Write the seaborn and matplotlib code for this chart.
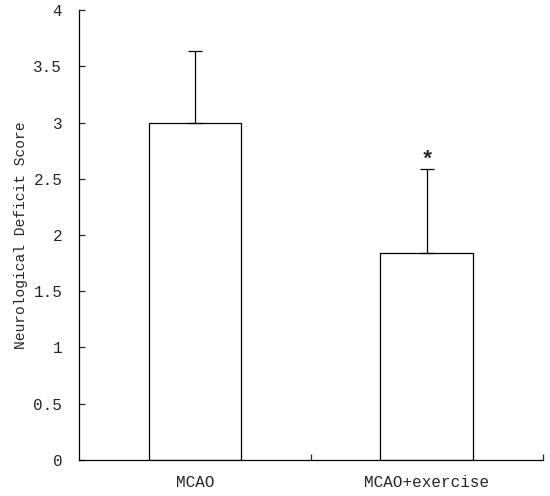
import matplotlib
matplotlib.use("Agg")
import matplotlib.pyplot as plt
import seaborn as sns
import pandas as pd

groups = ["MCAO", "MCAO+exercise"]
means = [3.0, 1.84]
sds = [0.64, 0.75]
marks = ["", "*"]

sns.set_style("white")
plt.rcParams["font.family"] = ["Liberation Mono", "DejaVu Sans Mono"]

df = pd.DataFrame({"group": groups, "score": means})

fig = plt.figure(figsize=(5.5, 4.96), dpi=100)
ax = fig.add_axes([0.1436, 0.0726, 0.8434, 0.9072])

sns.barplot(data=df, x="group", y="score", color="white", edgecolor="black",
            linewidth=0.9, width=0.4, errorbar=None, ax=ax)

# one-sided (upper) error bars
ax.errorbar(x=range(len(groups)), y=means, yerr=[[0] * len(sds), sds],
            fmt="none", ecolor="black", elinewidth=0.9, capsize=5, capthick=0.9)

for i, m in enumerate(marks):
    if m:
        ax.text(i, means[i] + sds[i] - 0.02, m, ha="center", va="bottom",
                fontsize=16, fontweight="bold")

ax.set_ylim(0, 4)
ax.set_xlim(-0.5, 1.5)
ax.set_yticks([0, 0.5, 1, 1.5, 2, 2.5, 3, 3.5, 4])
ax.set_yticklabels(["0", "0.5", "1", "1.5", "2", "2.5", "3", "3.5", "4"])
ax.set_xticks([0, 1])
ax.set_xticklabels(groups)
ax.set_xticks([0.5, 1.5], minor=True)
ax.tick_params(axis="x", which="major", length=0, pad=11, labelsize=11.5)
ax.tick_params(axis="x", which="minor", direction="in", length=4, width=0.9, bottom=True)
ax.tick_params(axis="y", direction="in", length=4, width=0.9, left=True, pad=12, labelsize=11.5)

ax.set_xlabel("")
ax.set_ylabel("Neurological Deficit Score", fontsize=10.5, labelpad=4)

sns.despine(ax=ax)
for s in ["left", "bottom"]:
    ax.spines[s].set_linewidth(0.9)
    ax.spines[s].set_color("black")

fig.savefig("out.png", dpi=100)
